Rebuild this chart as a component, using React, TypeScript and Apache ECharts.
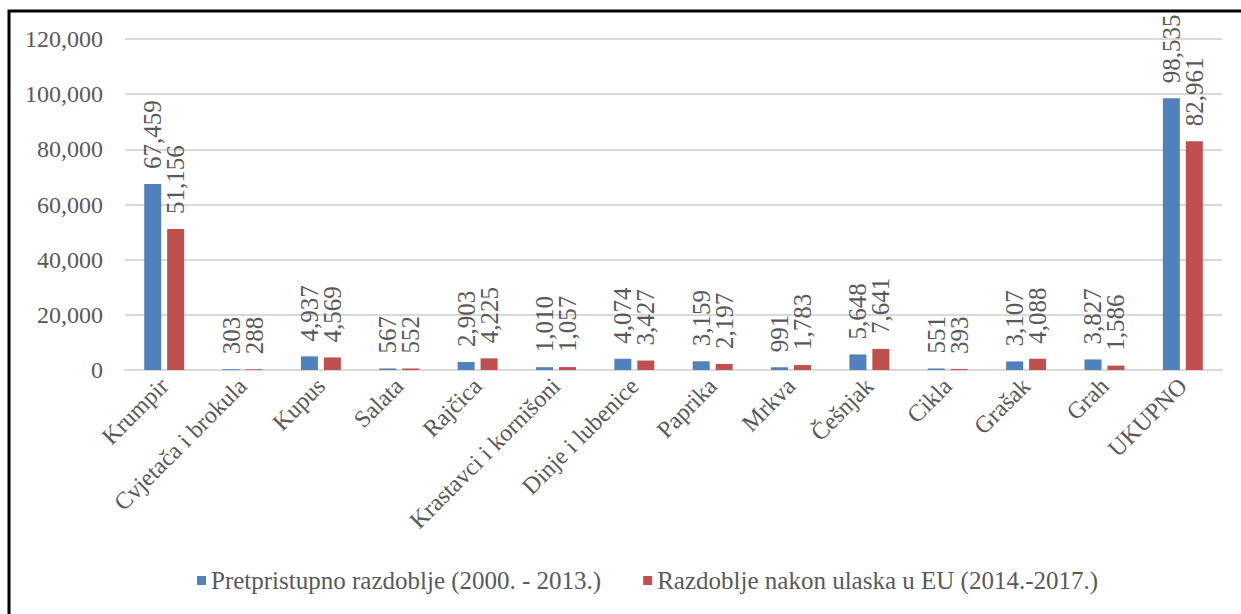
import React, { useEffect, useRef } from "react";
import * as echarts from "echarts";

const categories = [
  "Krumpir",
  "Cvjetača i brokula",
  "Kupus",
  "Salata",
  "Rajčica",
  "Krastavci i kornišoni",
  "Dinje i lubenice",
  "Paprika",
  "Mrkva",
  "Češnjak",
  "Cikla",
  "Grašak",
  "Grah",
  "UKUPNO",
];
const preAccession = [67459, 303, 4937, 567, 2903, 1010, 4074, 3159, 991, 5648, 551, 3107, 3827, 98535];
const postAccession = [51156, 288, 4569, 552, 4225, 1057, 3427, 2197, 1783, 7641, 393, 4088, 1586, 82961];
const seriesNames = [
  "Pretpristupno razdoblje (2000. - 2013.)",
  "Razdoblje nakon ulaska u EU (2014.-2017.)",
];

const FONT = "'Liberation Serif', 'Times New Roman', serif";
const TEXT = "#595959";

const fmt = (v: number) => v.toLocaleString("en-US");

export default function App() {
  const ref = useRef<HTMLDivElement>(null);
  useEffect(() => {
    if (!ref.current) return;
    const chart = echarts.init(ref.current, undefined, { renderer: "svg" });
    const labelCfg = {
      show: true,
      position: "top" as const,
      rotate: 90,
      align: "left" as const,
      verticalAlign: "middle" as const,
      distance: 15,
      fontFamily: FONT,
      fontSize: 25,
      color: TEXT,
      formatter: (p: any) => fmt(p.value),
    };
    chart.setOption({
      animation: false,
      textStyle: { fontFamily: FONT },
      graphic: [
        {
          type: "rect",
          shape: { x: 9, y: 11, width: 1400, height: 800 },
          style: { fill: "none", stroke: "#000", lineWidth: 3 },
          silent: true,
        },
      ],
      grid: { left: 125, right: 19, top: 39, bottom: 244 },
      legend: {
        bottom: 16,
        left: 192,
        itemWidth: 9,
        itemHeight: 9,
        itemGap: 42,
        icon: "rect",
        textStyle: { fontFamily: FONT, fontSize: 25, color: TEXT },
        data: seriesNames,
      },
      xAxis: {
        type: "category",
        data: categories,
        axisLine: { lineStyle: { color: "#d9d9d9", width: 2 } },
        axisTick: { show: false },
        axisLabel: {
          rotate: 45,
          interval: 0,
          margin: 12,
          fontFamily: FONT,
          fontSize: 24,
          color: TEXT,
        },
      },
      yAxis: {
        type: "value",
        min: 0,
        max: 120000,
        interval: 20000,
        axisLine: { show: false },
        axisTick: { show: false },
        splitLine: { lineStyle: { color: "#d9d9d9", width: 2 } },
        axisLabel: {
          margin: 22,
          fontFamily: FONT,
          fontSize: 24,
          color: TEXT,
          formatter: (v: number) => fmt(v),
        },
      },
      series: [
        {
          name: seriesNames[0],
          type: "bar",
          data: preAccession,
          barWidth: 17,
          barGap: "35%",
          itemStyle: { color: "#4f81bd" },
          label: labelCfg,
        },
        {
          name: seriesNames[1],
          type: "bar",
          data: postAccession,
          barWidth: 17,
          itemStyle: { color: "#c0504d" },
          label: labelCfg,
        },
      ],
    });
    return () => chart.dispose();
  }, []);
  return (
    <div
      ref={ref}
      style={{ position: "absolute", left: 0, top: 0, width: 1241, height: 614, background: "#fff" }}
    />
  );
}
